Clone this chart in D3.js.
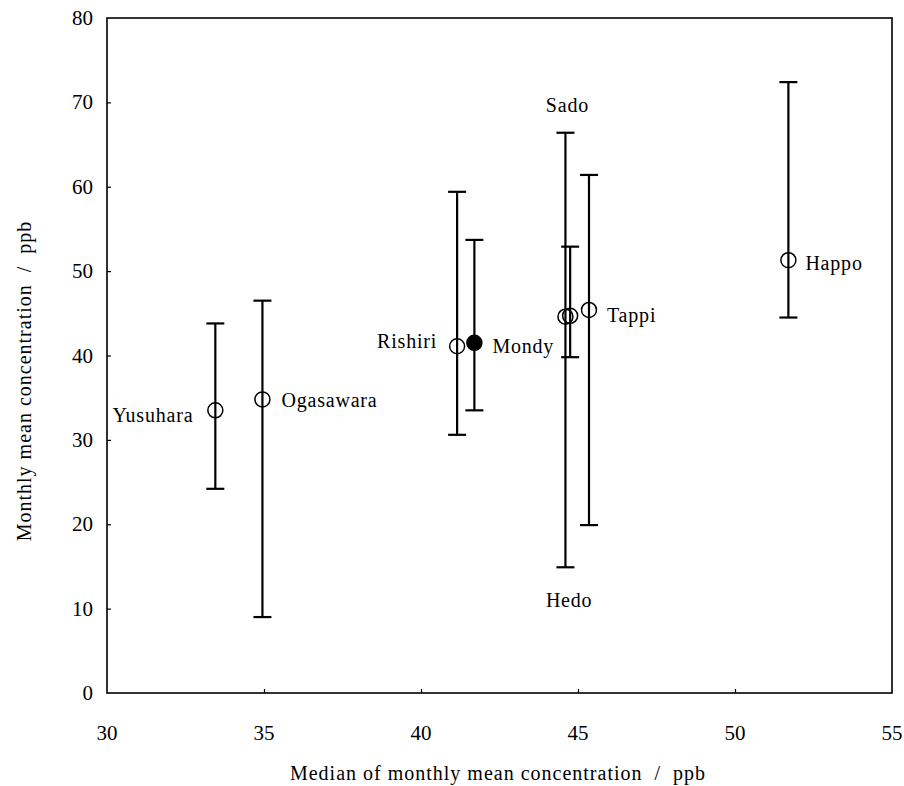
<!DOCTYPE html>
<html>
<head>
<meta charset="utf-8">
<script src="https://cdn.jsdelivr.net/npm/d3@7"></script>
<style>
  body { margin: 0; background: #fff; }
  text { font-family: "Liberation Serif", "DejaVu Serif", serif; fill: #000; white-space: pre; }
</style>
</head>
<body>
<svg id="chart" width="904" height="786"></svg>
<script>
// DATA
var sites   = ["Yusuhara", "Ogasawara", "Rishiri", "Mondy", "Sado", "Hedo", "Tappi", "Happo"];
var medians = [33.45, 34.95, 41.15, 41.7, 44.6, 44.75, 45.35, 51.7];
var means   = [33.5, 34.8, 41.1, 41.5, 44.6, 44.7, 45.4, 51.3];
var lows    = [24.2, 9.0, 30.6, 33.5, 14.9, 39.8, 19.9, 44.5];
var highs   = [43.8, 46.5, 59.4, 53.7, 66.4, 52.9, 61.4, 72.4];
var filled  = [false, false, false, true, false, false, false, false];
var xTicks  = [30, 35, 40, 45, 50, 55];
var yTicks  = [0, 10, 20, 30, 40, 50, 60, 70, 80];

// label placement (pixels from the point)
var labelPos = {
    Yusuhara:  { dx: -22, dy: 12,   anchor: "end" },
    Ogasawara: { dx: 19,  dy: 8,    anchor: "start" },
    Rishiri:   { dx: -20, dy: 2,    anchor: "end" },
    Mondy:     { dx: 18,  dy: 10,   anchor: "start" },
    Sado:      { dx: 2,   dy: -205, anchor: "middle" },
    Hedo:      { dx: -1,  dy: 291,  anchor: "middle" },
    Tappi:     { dx: 18,  dy: 12,   anchor: "start" },
    Happo:     { dx: 17,  dy: 10,   anchor: "start" }
};

var svg = d3.select("#chart");
var pLeft = 107, pRight = 892, pTop = 18, pBottom = 693;

var x = d3.scaleLinear().domain([30, 55]).range([pLeft, pRight]);
var y = d3.scaleLinear().domain([0, 80]).range([pBottom, pTop]);

// FRAME
svg.append("rect")
    .attr("x", pLeft).attr("y", pTop)
    .attr("width", pRight - pLeft).attr("height", pBottom - pTop)
    .attr("fill", "none").attr("stroke", "#000").attr("stroke-width", 1.6);

// Y AXIS - ticks inside, labels outside
var yAxis = svg.append("g").attr("transform", "translate(" + pLeft + ",0)")
    .call(d3.axisRight(y).tickValues(yTicks.slice(1, -1)).tickSize(4).tickFormat(""));
yAxis.select(".domain").remove();
yAxis.selectAll("line").attr("stroke-width", 1.2);

svg.selectAll(".ylab").data(yTicks).enter().append("text")
    .attr("class", "ylab")
    .attr("x", 93).attr("y", function (d) { return y(d) + 7; })
    .attr("text-anchor", "end")
    .style("font-size", "21px")
    .text(function (d) { return d; });

// X AXIS
var xAxis = svg.append("g").attr("transform", "translate(0," + pBottom + ")")
    .call(d3.axisTop(x).tickValues(xTicks.slice(1, -1)).tickSize(4).tickFormat(""));
xAxis.select(".domain").remove();
xAxis.selectAll("line").attr("stroke-width", 1.2);

svg.selectAll(".xlab").data(xTicks).enter().append("text")
    .attr("class", "xlab")
    .attr("x", function (d) { return x(d); }).attr("y", 740)
    .attr("text-anchor", "middle")
    .style("font-size", "21px")
    .text(function (d) { return d; });

// AXIS TITLES
svg.append("text")
    .attr("x", 498).attr("y", 780)
    .attr("text-anchor", "middle")
    .style("font-size", "20px")
    .style("letter-spacing", "1px")
    .text("Median of monthly mean concentration  /  ppb");

svg.append("text")
    .attr("transform", "translate(31,381) rotate(-90)")
    .attr("text-anchor", "middle")
    .style("font-size", "20px")
    .style("letter-spacing", "1px")
    .text("Monthly mean concentration  /  ppb");

// ERROR BARS
var g = svg.append("g");
sites.forEach(function (s, i) {
    var cx = x(medians[i]);
    g.append("line")
        .attr("x1", cx).attr("x2", cx)
        .attr("y1", y(lows[i])).attr("y2", y(highs[i]))
        .attr("stroke", "#000").attr("stroke-width", 2.2);
    [lows[i], highs[i]].forEach(function (v) {
        g.append("line")
            .attr("x1", cx - 9).attr("x2", cx + 9)
            .attr("y1", y(v)).attr("y2", y(v))
            .attr("stroke", "#000").attr("stroke-width", 2.2);
    });
});

// POINTS
sites.forEach(function (s, i) {
    g.append("circle")
        .attr("cx", x(medians[i])).attr("cy", y(means[i]))
        .attr("r", 7.5)
        .attr("fill", filled[i] ? "#000" : "none")
        .attr("stroke", "#000").attr("stroke-width", 1.5);
});

// SITE LABELS
sites.forEach(function (s, i) {
    var p = labelPos[s];
    svg.append("text")
        .attr("x", x(medians[i]) + p.dx)
        .attr("y", y(means[i]) + p.dy)
        .attr("text-anchor", p.anchor)
        .style("font-size", "20px")
        .style("letter-spacing", "0.8px")
        .text(s);
});
</script>
</body>
</html>
